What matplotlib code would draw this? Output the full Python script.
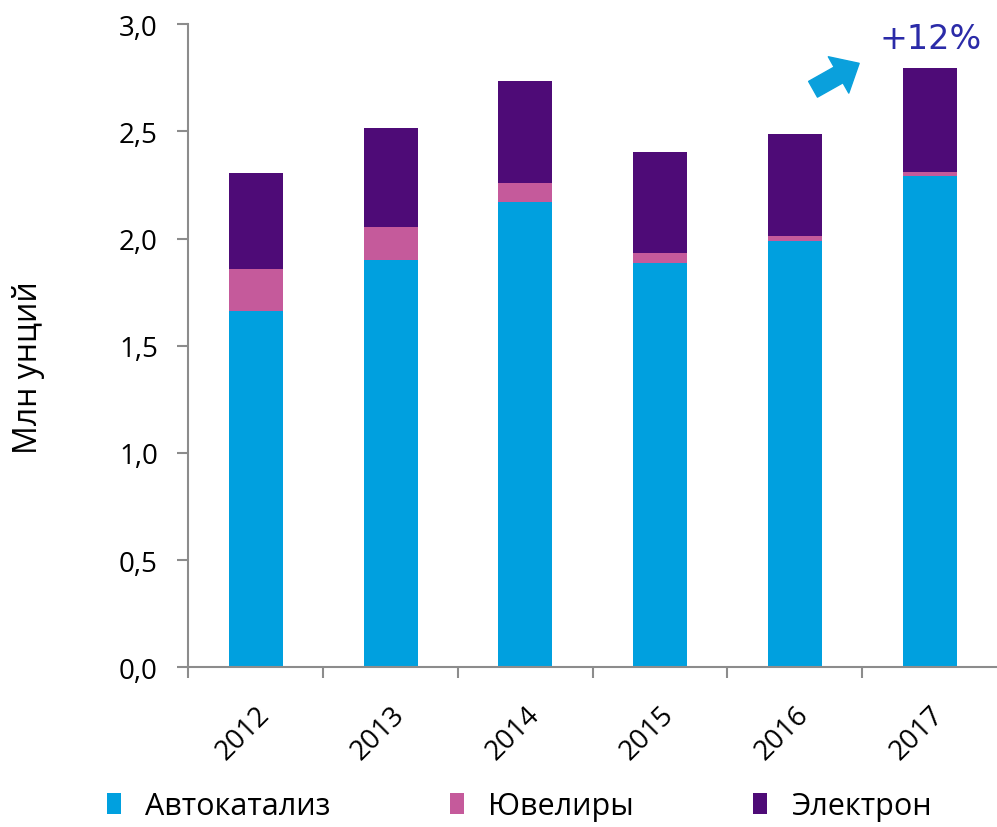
import numpy as np
import matplotlib
matplotlib.use('Agg')
import matplotlib.pyplot as plt

plt.rcParams['font.family'] = ['Open Sans', 'DejaVu Sans']

years = ['2012', '2013', '2014', '2015', '2016', '2017']
autocat = [1.664, 1.898, 2.171, 1.885, 1.989, 2.291]
jewelry = [0.196, 0.155, 0.089, 0.047, 0.022, 0.022]
electron = [0.444, 0.462, 0.474, 0.471, 0.479, 0.481]

c_auto = '#00A0DF'
c_jew = '#C55A9B'
c_el = '#4E0B77'

fig = plt.figure(figsize=(9.97, 8.28), dpi=100)
ax = fig.add_axes([0.189, 0.193, 0.811, 0.7764])

x = np.arange(len(years))
auto = np.array(autocat)
jew = np.array(jewelry)
el = np.array(electron)

ax.bar(x, auto, 0.4, color=c_auto, label='Автокатализ')
ax.bar(x, jew, 0.4, bottom=auto, color=c_jew, label='Ювелиры')
ax.bar(x, el, 0.4, bottom=auto + jew, color=c_el, label='Электрон')

ax.set_xlim(-0.5, 5.5)
ax.set_ylim(0, 3.0)
ax.set_yticks(np.arange(0, 3.01, 0.5))
ax.set_yticklabels([('%.1f' % v).replace('.', ',') for v in np.arange(0, 3.01, 0.5)], fontsize=20)
ax.set_xticks(x)
ax.set_xticklabels(years, fontsize=20, rotation=45, ha='right', rotation_mode='anchor')
ax.set_xticks(np.arange(-0.5, 5.0, 1.0), minor=True)
ax.tick_params(axis='x', which='major', length=0, pad=24)
ax.tick_params(axis='x', which='minor', length=8, color='#8c8c8c', width=1.5)
ax.tick_params(axis='y', length=8, color='#8c8c8c', width=1.5, pad=14)

for s in ['top', 'right']:
    ax.spines[s].set_visible(False)
for s in ['left', 'bottom']:
    ax.spines[s].set_color('#8c8c8c')
    ax.spines[s].set_linewidth(1.5)

ax.set_ylabel('Млн унций', fontsize=23)
ax.yaxis.set_label_coords(-0.178, 0.467)

ax.annotate('', xy=(4.477, 2.818), xytext=(4.135, 2.697),
            arrowprops=dict(width=13, headwidth=30, headlength=17, color='#0AA0DC', shrink=0))
ax.text(5.005, 2.935, '+12%', fontsize=24, color='#2B2BA8', ha='center', va='center',
        family='DejaVu Sans')

fig.legend(loc='lower center', bbox_to_anchor=(0.521, -0.026), ncol=3, frameon=False,
           fontsize=22, handlelength=0.45, handleheight=0.7, handletextpad=0.8,
           columnspacing=3.9)

fig.savefig('out.png', dpi=100)
